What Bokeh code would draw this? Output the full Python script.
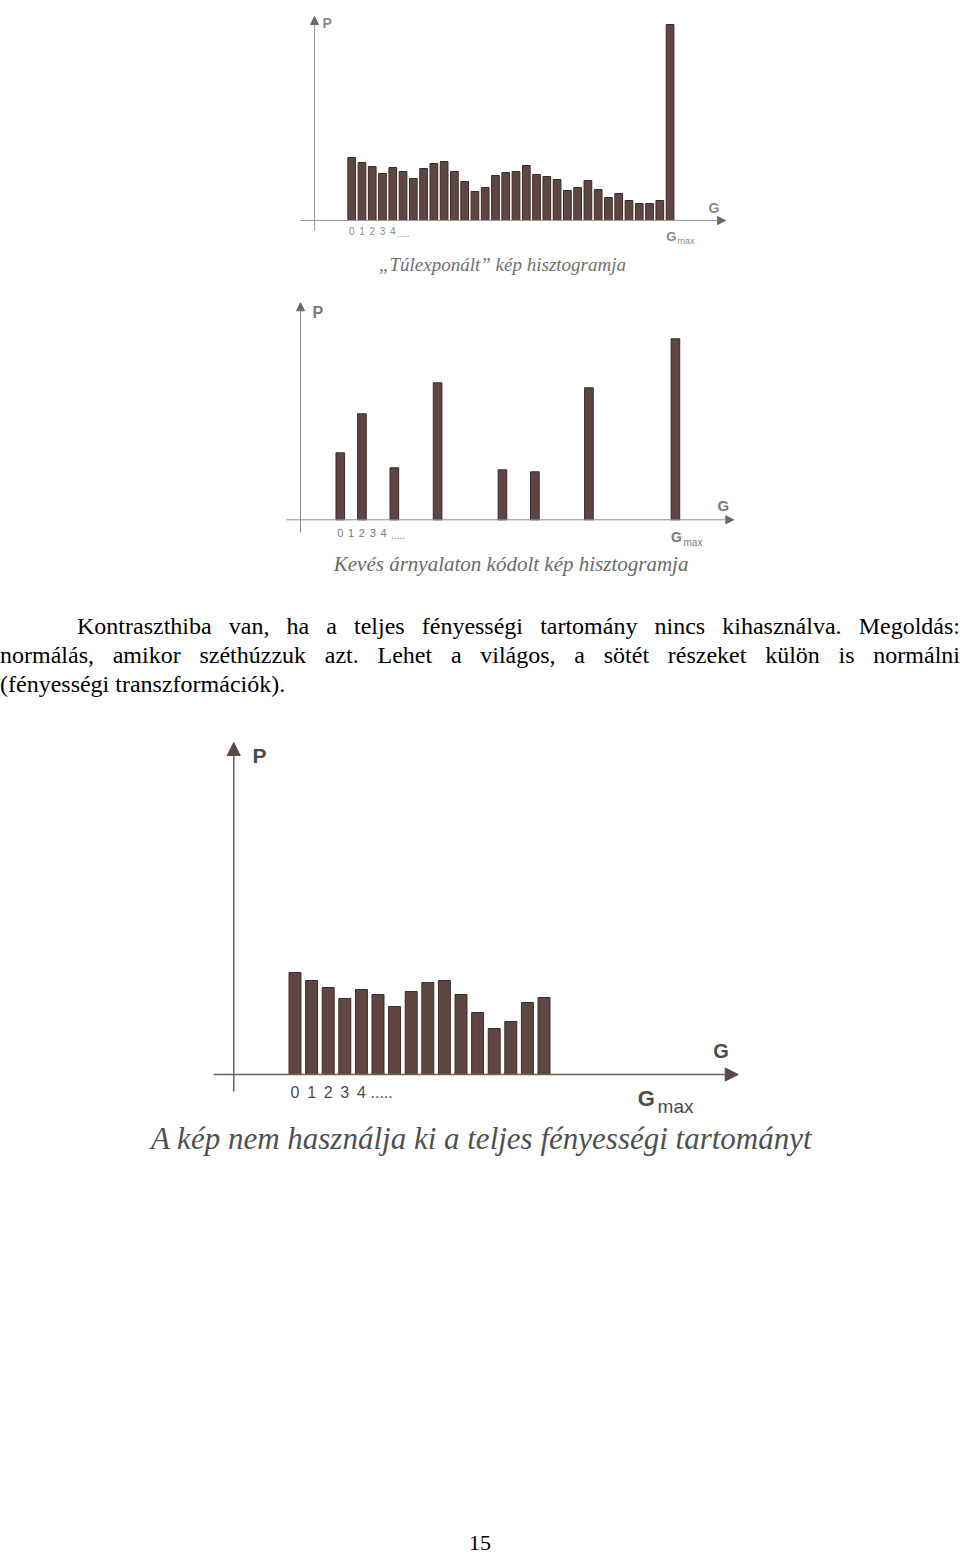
from bokeh.plotting import figure
from bokeh.models import Range1d, LinearAxis, FixedTicker, Arrow, NormalHead, Div
from bokeh.layouts import column
from bokeh.core.properties import value
from bokeh.embed import file_html
from bokeh.resources import INLINE

# ---------------- data ----------------
# Histogram 1: "Túlexponált" (overexposed) image
hist1_levels = list(range(32))
hist1_counts = [63, 58, 54, 47, 53, 49, 42, 52, 57, 59, 49, 39, 29, 33, 45, 48,
                49, 55, 46, 44, 41, 30, 33, 40, 31, 23, 27, 20, 17, 17, 20, 196]
hist1_gmax = 31
hist1_caption = "\u201eTúlexponált\u201d kép hisztogramja"

# Histogram 2: few grey levels
hist2_levels = [0, 2, 5, 9, 15, 18, 23, 31]
hist2_counts = [67, 106, 52, 137, 50, 48, 132, 181]
hist2_gmax = 31
hist2_caption = "Kevés árnyalaton kódolt kép hisztogramja"

# Histogram 3: image not using the full range
hist3_levels = list(range(16))
hist3_counts = [102, 94, 87, 76, 85, 80, 68, 83, 92, 94, 80, 62, 46, 53, 72, 77]
hist3_gmax = 21
hist3_caption = "A kép nem használja ki a teljes fényességi tartományt"

tick_values = [0, 1, 2, 3, 4]
tick_labels = ["0", "1", "2", "3", "4"]

paragraph_lines = [
    "Kontraszthiba van, ha a teljes fényességi tartomány nincs kihasználva. Megoldás:",
    "normálás, amikor széthúzzuk azt. Lehet a világos, a sötét részeket külön is normálni",
    "(fényességi transzformációk).",
]
page_number = "15"

BAR_FILL = "#5e4743"
BAR_LINE = "#3d2b28"
SANS = value("Liberation Sans")
SERIF = value("Liberation Serif")


def px(size):
    return float(size.replace("px", ""))


def put_text(p, x, y, text, size, color, font=SANS, style="normal", align="left"):
    # y is the intended baseline; nudge up to compensate the renderer's baseline offset
    p.text(x=[x], y=[y + 0.33 * px(size)], text=[text], text_font=font,
           text_font_style=style, text_font_size=size, text_color=color,
           text_baseline="alphabetic", text_align=align)


def histogram(height, xr, yr, levels, counts, bar_w, gmax, caption, st):
    p = figure(width=960, height=height, x_range=Range1d(*xr), y_range=Range1d(*yr),
               output_backend="svg", toolbar_location=None,
               x_axis_type=None, y_axis_type=None, min_border=0,
               outline_line_color=None, background_fill_color="white",
               border_fill_color="white")
    # bars
    p.vbar(x=levels, top=counts, bottom=0, width=bar_w,
           fill_color=BAR_FILL, line_color=BAR_LINE, line_width=1)
    # axis arrows
    p.add_layout(Arrow(end=NormalHead(size=st["head"], fill_color=st["head_col"],
                                      line_color=st["head_col"]),
                       x_start=st["xaxis"][0], y_start=0, x_end=st["xaxis"][1], y_end=0,
                       line_color=st["axis_col"], line_width=st["axis_w"]))
    p.add_layout(Arrow(end=NormalHead(size=st["head"], fill_color=st["head_col"],
                                      line_color=st["head_col"]),
                       x_start=st["yaxis_x"], y_start=st["yaxis"][0],
                       x_end=st["yaxis_x"], y_end=st["yaxis"][1],
                       line_color=st["axis_col"], line_width=st["axis_w"]))
    # tick labels 0 1 2 3 4 via a real axis at the baseline
    ax = LinearAxis(fixed_location=0, ticker=FixedTicker(ticks=tick_values, minor_ticks=[]),
                    major_label_overrides=dict(zip(tick_values, tick_labels)),
                    axis_line_color=None, major_tick_line_color=None,
                    minor_tick_line_color=None, major_tick_in=0, major_tick_out=0,
                    major_label_standoff=st["standoff"],
                    major_label_text_font="Liberation Sans",
                    major_label_text_font_size=st["digit_size"],
                    major_label_text_color=st["text_col"])
    p.add_layout(ax, "below")
    put_text(p, st["dots"][0], st["dots"][1], ".....", st["dots_size"], st["text_col"])
    # axis letters
    put_text(p, st["P"][0], st["P"][1], "P", st["P_size"], st["text_col"], style="bold")
    put_text(p, st["G"][0], st["G"][1], "G", st["G_size"], st["text_col"], style="bold")
    # G_max
    put_text(p, gmax - bar_w / 2, st["gmax_y"], "G", st["gmax_size"], st["text_col"],
             style="bold")
    put_text(p, st["max"][0], st["max"][1], "max", st["max_size"], st["text_col"])
    # caption
    put_text(p, st["cap"][0], st["cap"][1], caption, st["cap_size"], st["cap_col"],
             font=SERIF, style="italic", align="center")
    return p


p1 = histogram(290, (-34.196, 59.28), (-70, 220), hist1_levels, hist1_counts, 0.75,
               hist1_gmax, hist1_caption,
               dict(head=8, head_col="#6a6a6a", axis_col="#9a9a9a", axis_w=1,
                    xaxis=(-4.99, 36.4), yaxis_x=-3.62, yaxis=(-10, 204),
                    standoff=6, digit_size="10px", text_col="#8a8a8a",
                    dots=(4.4, -16), dots_size="9px",
                    P=(-2.84, 193), P_size="14px", G=(34.74, 8), G_size="14px",
                    gmax_y=-20, gmax_size="13px", max=(31.72, -23), max_size="9px",
                    cap=(14.68, -50), cap_size="19px", cap_col="#707070"))

p2 = histogram(295, (-31.434, 57.373), (-65.7, 229.3), hist2_levels, hist2_counts, 0.8,
               hist2_gmax, hist2_caption,
               dict(head=8, head_col="#6a6a6a", axis_col="#8a8a8a", axis_w=1,
                    xaxis=(-4.98, 36.4), yaxis_x=-3.68, yaxis=(-12.7, 217),
                    standoff=9, digit_size="11px", text_col="#7a7a7a",
                    dots=(4.7, -18), dots_size="10px",
                    P=(-2.57, 202), P_size="16px", G=(34.9, 9.3), G_size="15px",
                    gmax_y=-21.7, gmax_size="14px", max=(31.75, -25.5), max_size="10px",
                    cap=(15.8, -50.7), cap_size="21px", cap_col="#6a6a6a"))

p3 = histogram(470, (-17.741, 40.09), (-106, 364), hist3_levels, hist3_counts, 0.72,
               hist3_gmax, hist3_caption,
               dict(head=13, head_col="#5b4743", axis_col="#6f605c", axis_w=1.5,
                    xaxis=(-4.90, 26.7), yaxis_x=-3.69, yaxis=(-17, 332),
                    standoff=11, digit_size="16px", text_col="#4a4a4a",
                    dots=(4.55, -23), dots_size="16px",
                    P=(-2.56, 312), P_size="21px", G=(25.2, 17), G_size="20px",
                    gmax_y=-31, gmax_size="22px", max=(21.84, -38), max_size="19px",
                    cap=(11.24, -74), cap_size="31px", cap_col="#505050"))

para_html = (
    "<div style=\"width:960px;margin:0;padding:27px 0 0 0;"
    "font-family:'Liberation Serif','Times New Roman',serif;font-size:24px;"
    "line-height:29px;color:#000;\">"
    f"<div style=\"text-align:justify;text-align-last:justify;padding-left:77px;\">{paragraph_lines[0]}</div>"
    f"<div style=\"text-align:justify;text-align-last:justify;\">{paragraph_lines[1]}</div>"
    f"<div style=\"text-align:left;\">{paragraph_lines[2]}</div>"
    "</div>"
)
para = Div(text=para_html, width=960, height=125, margin=0)

page_html = (
    "<div style=\"width:960px;margin:0;padding:352px 0 0 0;text-align:center;"
    "font-family:'Liberation Serif','Times New Roman',serif;font-size:22px;"
    f"line-height:22px;color:#000;\">{page_number}</div>"
)
page_div = Div(text=page_html, width=960, height=374, margin=0)

layout = column(p1, p2, para, p3, page_div, spacing=0)

open("out.html", "w").write(file_html(layout, INLINE))
